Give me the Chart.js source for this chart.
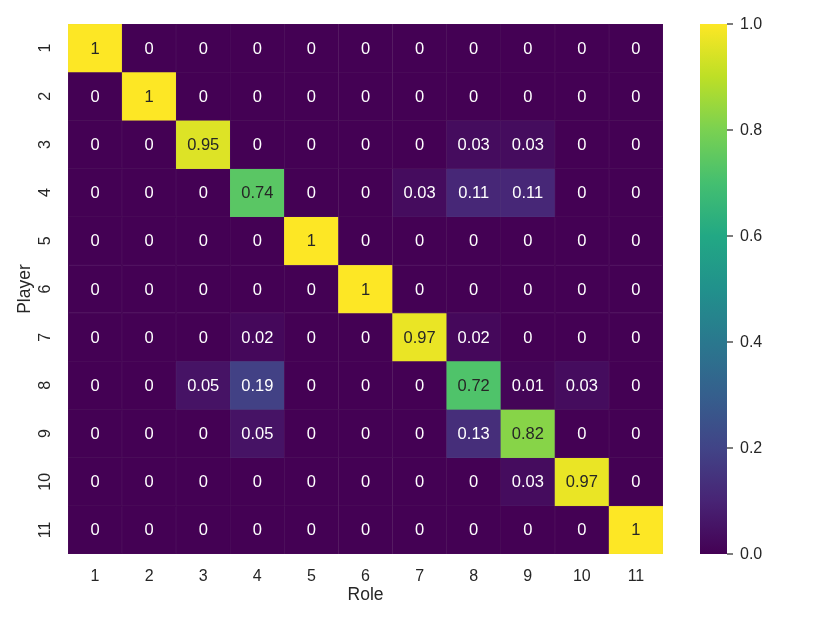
<!DOCTYPE html>
<html>
<head>
<meta charset="utf-8">
<script src="https://cdn.jsdelivr.net/npm/chart.js@4.4.1/dist/chart.umd.min.js"></script>
<style>
  html, body { margin: 0; padding: 0; background: #fff; }
  #wrap { width: 830px; height: 623px; position: relative; }
</style>
</head>
<body>
<div id="wrap"><canvas id="heat"></canvas></div>
<script>
'use strict';

// Axis labels
const roles = ['1', '2', '3', '4', '5', '6', '7', '8', '9', '10', '11'];
const players = ['1', '2', '3', '4', '5', '6', '7', '8', '9', '10', '11'];

// share of each player (row) in each role (column)
const share = [
  [1, 0, 0, 0, 0, 0, 0, 0, 0, 0, 0],
  [0, 1, 0, 0, 0, 0, 0, 0, 0, 0, 0],
  [0, 0, 0.95, 0, 0, 0, 0, 0.03, 0.03, 0, 0],
  [0, 0, 0, 0.74, 0, 0, 0.03, 0.11, 0.11, 0, 0],
  [0, 0, 0, 0, 1, 0, 0, 0, 0, 0, 0],
  [0, 0, 0, 0, 0, 1, 0, 0, 0, 0, 0],
  [0, 0, 0, 0.02, 0, 0, 0.97, 0.02, 0, 0, 0],
  [0, 0, 0.05, 0.19, 0, 0, 0, 0.72, 0.01, 0.03, 0],
  [0, 0, 0, 0.05, 0, 0, 0, 0.13, 0.82, 0, 0],
  [0, 0, 0, 0, 0, 0, 0, 0, 0.03, 0.97, 0],
  [0, 0, 0, 0, 0, 0, 0, 0, 0, 0, 1]
];

// colorbar ticks
const barTicks = [0, 0.2, 0.4, 0.6, 0.8, 1.0];

// viridis stops
const viridis = ['#440154', '#482475', '#414487', '#355f8d', '#2a788e', '#21918c',
                 '#22a884', '#44bf70', '#7ad151', '#bddf26', '#fde725'];

const FONT = 'Liberation Sans, Arial, Helvetica, sans-serif';
const INK = '#262626';

function hexRgb(h) {
  return [parseInt(h.slice(1, 3), 16), parseInt(h.slice(3, 5), 16), parseInt(h.slice(5, 7), 16)];
}

function colorRgb(v) {
  let t = Math.max(0, Math.min(1, v)) * (viridis.length - 1);
  let i = Math.min(Math.floor(t), viridis.length - 2);
  let f = t - i;
  let a = hexRgb(viridis[i]);
  let b = hexRgb(viridis[i + 1]);
  return a.map((c, k) => Math.round(c + (b[k] - c) * f));
}

function colorOf(v) {
  let c = colorRgb(v);
  return `rgb(${c[0]},${c[1]},${c[2]})`;
}

// faint edge: cell colour pulled a little toward grey
function edgeOf(v) {
  let c = colorRgb(v).map(x => Math.round(x + (140 - x) * 0.12));
  return `rgb(${c[0]},${c[1]},${c[2]})`;
}

// same rule as seaborn: dark text on light cells
function textColor(v) {
  let lin = colorRgb(v).map(c => {
    c = c / 255;
    return c <= 0.03928 ? c / 12.92 : Math.pow((c + 0.055) / 1.055, 2.4);
  });
  let lum = 0.2126 * lin[0] + 0.7152 * lin[1] + 0.0722 * lin[2];
  return lum > 0.408 ? INK : '#ffffff';
}

// one stacked dataset per player row
const datasets = players.map((p, i) => ({
  label: 'Player ' + p,
  data: roles.map(() => 1),
  backgroundColor: share[i].map(colorOf),
  borderColor: share[i].map(edgeOf),
  borderWidth: 0.6,
  borderSkipped: false,
  barPercentage: 1,
  categoryPercentage: 1
}));

// cell text, rotated y tick labels and the colorbar
const heatExtras = {
  id: 'heatExtras',
  afterDatasetsDraw(chart) {
    const ctx = chart.ctx;
    ctx.save();
    ctx.font = '16.5px ' + FONT;
    ctx.textAlign = 'center';
    ctx.textBaseline = 'middle';
    players.forEach((p, i) => {
      const meta = chart.getDatasetMeta(i);
      meta.data.forEach((bar, j) => {
        const v = share[i][j];
        ctx.fillStyle = textColor(v);
        ctx.fillText(String(v), bar.x, (bar.y + bar.base) / 2 + 1);
      });
    });
    ctx.restore();
  },
  afterDraw(chart) {
    const ctx = chart.ctx;
    const yScale = chart.scales.y;
    const cb = chart.scales.cb;
    const area = chart.chartArea;

    // y tick labels, rotated like the reference
    ctx.save();
    ctx.font = '16px ' + FONT;
    ctx.fillStyle = INK;
    ctx.textAlign = 'center';
    ctx.textBaseline = 'middle';
    players.forEach((p, i) => {
      const y = yScale.getPixelForValue(i + 0.5);
      ctx.save();
      ctx.translate(46, y);
      ctx.rotate(-Math.PI / 2);
      ctx.fillText(p, 0, 0);
      ctx.restore();
    });
    ctx.restore();

    // colorbar
    const x0 = area.right + 37;
    const w = 27;
    const top = cb.getPixelForValue(1);
    const bottom = cb.getPixelForValue(0);
    ctx.save();
    const grad = ctx.createLinearGradient(0, bottom, 0, top);
    viridis.forEach((c, k) => grad.addColorStop(k / (viridis.length - 1), c));
    ctx.fillStyle = grad;
    ctx.fillRect(x0, top, w, bottom - top);

    ctx.strokeStyle = INK;
    ctx.lineWidth = 1.2;
    ctx.fillStyle = INK;
    ctx.font = '16px ' + FONT;
    ctx.textAlign = 'left';
    ctx.textBaseline = 'middle';
    barTicks.forEach(t => {
      const y = cb.getPixelForValue(t);
      ctx.beginPath();
      ctx.moveTo(x0 + w, y);
      ctx.lineTo(x0 + w + 6, y);
      ctx.stroke();
      ctx.fillText(t.toFixed(1), x0 + w + 13, y + 1);
    });
    ctx.restore();
  }
};

new Chart(document.getElementById('heat'), {
  type: 'bar',
  data: { labels: roles, datasets: datasets },
  options: {
    responsive: true,
    maintainAspectRatio: false,
    animation: false,
    layout: { padding: { top: 24, right: 167, left: 0, bottom: 0 } },
    plugins: {
      legend: { display: false },
      tooltip: { enabled: false }
    },
    scales: {
      x: {
        stacked: true,
        grid: { display: false, drawTicks: false },
        border: { display: false },
        ticks: { color: INK, font: { family: FONT, size: 16 }, padding: 13 },
        title: {
          display: true, text: 'Role', color: INK,
          font: { family: FONT, size: 17.5 }, padding: { top: 0, bottom: 17 }
        },
        afterFit(s) { s.height = 69; }
      },
      y: {
        stacked: true,
        min: 0,
        max: players.length,
        reverse: true,
        grid: { display: false, drawTicks: false },
        border: { display: false },
        ticks: { display: false },
        title: {
          display: true, text: 'Player', color: INK,
          font: { family: FONT, size: 17.5 }, padding: { top: 15, bottom: 0 }
        },
        afterFit(s) { s.width = 68; }
      },
      cb: {
        type: 'linear',
        display: false,
        position: 'right',
        min: 0,
        max: 1
      }
    }
  },
  plugins: [heatExtras]
});
</script>
</body>
</html>
